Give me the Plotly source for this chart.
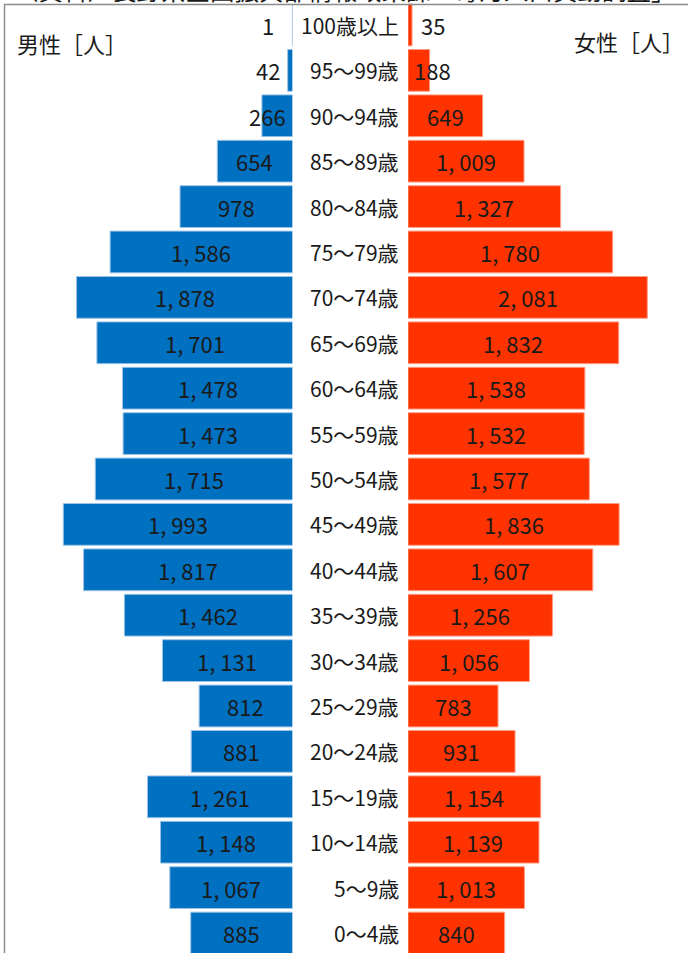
import plotly.graph_objects as go

ages = ["100歳以上", "95～99歳", "90～94歳", "85～89歳", "80～84歳", "75～79歳",
        "70～74歳", "65～69歳", "60～64歳", "55～59歳", "50～54歳", "45～49歳",
        "40～44歳", "35～39歳", "30～34歳", "25～29歳", "20～24歳", "15～19歳",
        "10～14歳", "5～9歳", "0～4歳"]
male = [1, 42, 266, 654, 978, 1586, 1878, 1701, 1478, 1473, 1715, 1993,
        1817, 1462, 1131, 812, 881, 1261, 1148, 1067, 885]
female = [35, 188, 649, 1009, 1327, 1780, 2081, 1832, 1538, 1532, 1577, 1836,
          1607, 1256, 1056, 783, 931, 1154, 1139, 1013, 840]
source_text = "（資料）長野県企画振興部情報政策課「毎月人口異動調査」"
male_title = "男性［人］"
female_title = "女性［人］"

W, H = 688, 953
FONT = "Noto Sans CJK JP"
BLUE = "#0070C0"
RED = "#FF3300"
TXT = "#1a1a1a"
MIN_LABEL = 217  # minimum label centre offset (in persons) for tiny bars


def fmt(v):
    return f"{v:,}".replace(",", ", ")


fig = go.Figure()
fig.add_trace(go.Bar(y=ages, x=male, orientation="h", xaxis="x", yaxis="y",
                     marker=dict(color=BLUE, line=dict(color="#9DC3E6", width=1)),
                     hoverinfo="x+y", showlegend=False))
fig.add_trace(go.Bar(y=ages, x=female, orientation="h", xaxis="x2", yaxis="y",
                     marker=dict(color=RED, line=dict(color="#FF9E85", width=1)),
                     hoverinfo="x+y", showlegend=False))

annotations = []
for a, m, f in zip(ages, male, female):
    annotations.append(dict(x=max(m / 2, MIN_LABEL), y=a, xref="x", yref="y",
                            text=fmt(m), showarrow=False, xanchor="center",
                            font=dict(family=FONT, size=22, color=TXT)))
    annotations.append(dict(x=max(f / 2, MIN_LABEL), y=a, xref="x2", yref="y",
                            text=fmt(f), showarrow=False, xanchor="center",
                            font=dict(family=FONT, size=22, color=TXT)))
    annotations.append(dict(x=401 / W, y=a, xref="paper", yref="y", text=a,
                            showarrow=False, xanchor="right",
                            font=dict(family=FONT, size=21, color=TXT)))

annotations.append(dict(x=15 / W, y=1 - 43 / H, xref="paper", yref="paper",
                        text=male_title, showarrow=False, xanchor="left", yanchor="middle",
                        font=dict(family=FONT, size=22, color=TXT)))
annotations.append(dict(x=686 / W, y=1 - 41 / H, xref="paper", yref="paper",
                        text=female_title, showarrow=False, xanchor="right", yanchor="middle",
                        font=dict(family=FONT, size=22, color=TXT)))
annotations.append(dict(x=12 / W, y=1, xref="paper", yref="paper", yshift=-9,
                        text=source_text, showarrow=False, xanchor="left", yanchor="bottom",
                        font=dict(family=FONT, size=24.5, color=TXT)))

scale = 0.115  # px per person
male_left, male_right = 4, 292.5
fem_left, fem_right = 408, 686

fig.update_layout(
    width=W, height=H,
    margin=dict(l=0, r=0, t=0, b=0),
    paper_bgcolor="white", plot_bgcolor="white",
    bargap=0.08,
    xaxis=dict(domain=[male_left / W, male_right / W],
               range=[(male_right - male_left) / scale, 0],
               visible=False, fixedrange=True),
    xaxis2=dict(domain=[fem_left / W, fem_right / W],
                range=[0, (fem_right - fem_left) / scale],
                visible=False, fixedrange=True, anchor="y"),
    yaxis=dict(type="category", categoryorder="array", categoryarray=ages,
               range=[20.44, -0.55], visible=False, fixedrange=True),
    annotations=annotations,
    shapes=[dict(type="rect", xref="paper", yref="paper",
                 x0=4.5 / W, x1=1.05, y0=-0.05, y1=1 - 4.5 / H,
                 line=dict(color="#8C8C8C", width=1.5), layer="above")],
)

fig.write_html("out.html", config={"displayModeBar": False},
               post_script="document.body.style.margin='0';document.body.style.overflow='hidden';")
